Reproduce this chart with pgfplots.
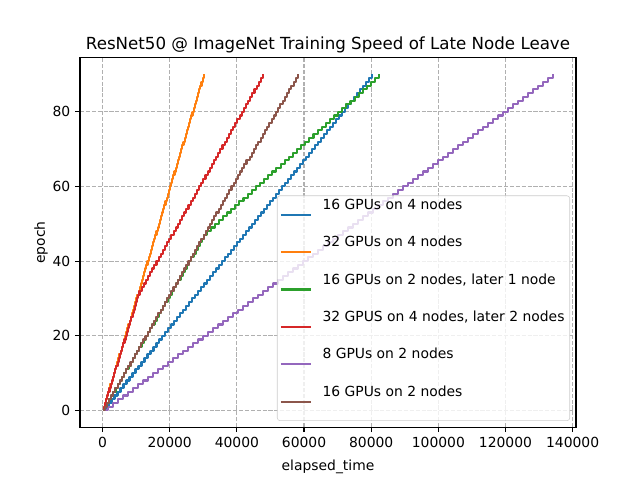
\documentclass[border=0pt]{standalone}
\usepackage{fontspec}
\setmainfont{DejaVu Sans}
\usepackage{pgfplots}
\pgfplotsset{compat=1.18}
\definecolor{c0}{HTML}{1F77B4}
\definecolor{c1}{HTML}{FF7F0E}
\definecolor{c2}{HTML}{2CA02C}
\definecolor{c3}{HTML}{D62728}
\definecolor{c4}{HTML}{9467BD}
\definecolor{c5}{HTML}{8C564B}
\definecolor{gridc}{HTML}{B0B0B0}
\definecolor{legc}{HTML}{CCCCCC}
\newcommand{\legtxt}[1]{#1\hspace*{2pt}\\[2pt]\strut}
\begin{document}
\begin{tikzpicture}
\path[use as bounding box] (-57.6pt,-38.02pt) rectangle (403.2pt,307.58pt);
\begin{axis}[
  at={(0pt,0pt)}, anchor=south west,
  scale only axis, width=357.12pt, height=266.11pt,
  xmin=-6714, xmax=140994, ymin=-4.5, ymax=94.5,
  xtick={0,20000,40000,60000,80000,100000,120000,140000},
  ytick={0,20,40,60,80},
  scaled x ticks=false,
  xticklabel style={/pgf/number format/.cd, fixed, 1000 sep={}},
  /pgf/number format/assume math mode=true,
  tick align=outside, major tick length=3.5pt,
  xtick pos=left, ytick pos=left,
  tick style={black, line width=0.8pt},
  axis line style={line width=0.8pt},
  grid=major,
  major grid style={gridc, line width=0.8pt, dash pattern=on 2.96pt off 1.28pt},
  title={\fontsize{12}{14}\selectfont ResNet50 @ ImageNet Training Speed of Late Node Leave},
  title style={yshift=-6.5pt},
  xlabel={elapsed\_time}, ylabel={epoch},
  xlabel style={yshift=-2pt}, ylabel style={yshift=-3.5pt},
  font=\fontsize{10}{12}\selectfont,
  legend style={at={(0.988,0.017)}, anchor=south east, draw=legc, rounded corners=2pt,
    fill=white, fill opacity=0.8, text opacity=1, font=\fontsize{10}{12}\selectfont,
    row sep=3.8pt, column sep=0pt, inner xsep=1.8pt, inner ysep=2.16pt,
    nodes={inner sep=0pt, align=left}, cells={anchor=west}},
  legend image code/.code={\draw[#1] (0pt,0pt) -- (21.6pt,0pt); \path (29.3pt,0pt);},
  every axis plot/.append style={line width=1.5pt, const plot, line join=round},
]
\addplot[c0] coordinates {(0,0)(892,1)(1784,2)(2676,3)(3568,4)(4460,5)(5352,6)(6244,7)(7136,8)(8028,9)(8920,10)(9812,11)(10704,12)(11596,13)(12488,14)(13380,15)(14272,16)(15164,17)(16056,18)(16948,19)(17840,20)(18732,21)(19624,22)(20516,23)(21408,24)(22300,25)(23192,26)(24084,27)(24976,28)(25868,29)(26760,30)(27652,31)(28544,32)(29436,33)(30328,34)(31220,35)(32112,36)(33004,37)(33896,38)(34788,39)(35680,40)(36572,41)(37464,42)(38356,43)(39248,44)(40140,45)(41032,46)(41924,47)(42816,48)(43708,49)(44600,50)(45492,51)(46384,52)(47276,53)(48168,54)(49060,55)(49952,56)(50844,57)(51736,58)(52628,59)(53520,60)(54412,61)(55304,62)(56196,63)(57088,64)(57980,65)(58872,66)(59764,67)(60656,68)(61548,69)(62440,70)(63332,71)(64224,72)(65116,73)(66008,74)(66900,75)(67792,76)(68684,77)(69576,78)(70468,79)(71360,80)(72252,81)(73144,82)(74036,83)(74928,84)(75820,85)(76712,86)(77604,87)(78496,88)(79388,89)(80280,90)};
\addlegendentry{\legtxt{16 GPUs on 4 nodes}}
\addplot[c1] coordinates {(0,0)(335,1)(670,2)(1005,3)(1340,4)(1675,5)(2010,6)(2345,7)(2680,8)(3015,9)(3350,10)(3685,11)(4020,12)(4355,13)(4690,14)(5025,15)(5360,16)(5695,17)(6030,18)(6365,19)(6700,20)(7035,21)(7370,22)(7705,23)(8040,24)(8375,25)(8710,26)(9045,27)(9380,28)(9715,29)(10050,30)(10385,31)(10720,32)(11055,33)(11390,34)(11725,35)(12060,36)(12395,37)(12730,38)(13065,39)(13400,40)(13735,41)(14070,42)(14405,43)(14740,44)(15075,45)(15410,46)(15745,47)(16080,48)(16415,49)(16750,50)(17085,51)(17420,52)(17755,53)(18090,54)(18425,55)(18760,56)(19095,57)(19430,58)(19765,59)(20100,60)(20435,61)(20770,62)(21105,63)(21440,64)(21775,65)(22110,66)(22445,67)(22780,68)(23115,69)(23450,70)(23785,71)(24120,72)(24455,73)(24790,74)(25125,75)(25460,76)(25795,77)(26130,78)(26465,79)(26800,80)(27135,81)(27470,82)(27805,83)(28140,84)(28475,85)(28810,86)(29145,87)(29480,88)(29815,89)(30150,90)};
\addlegendentry{\legtxt{32 GPUs on 4 nodes}}
\addplot[c2] coordinates {(0,0)(645,1)(1290,2)(1935,3)(2580,4)(3225,5)(3870,6)(4515,7)(5160,8)(5805,9)(6450,10)(7095,11)(7740,12)(8385,13)(9030,14)(9675,15)(10320,16)(10965,17)(11610,18)(12255,19)(12900,20)(13545,21)(14190,22)(14835,23)(15480,24)(16125,25)(16770,26)(17415,27)(18060,28)(18705,29)(19350,30)(19995,31)(20640,32)(21285,33)(21930,34)(22575,35)(23220,36)(23865,37)(24510,38)(25155,39)(25800,40)(26445,41)(27090,42)(27735,43)(28380,44)(29025,45)(29670,46)(30315,47)(30960,48)(32185,49)(33410,50)(34635,51)(35860,52)(37085,53)(38310,54)(39535,55)(40760,56)(41985,57)(43210,58)(44435,59)(45660,60)(46885,61)(48110,62)(49335,63)(50560,64)(51785,65)(53010,66)(54235,67)(55460,68)(56685,69)(57910,70)(59135,71)(60360,72)(61585,73)(62810,74)(64035,75)(65260,76)(66485,77)(67710,78)(68935,79)(70160,80)(71385,81)(72610,82)(73835,83)(75060,84)(76285,85)(77510,86)(78735,87)(79960,88)(81185,89)(82410,90)};
\addlegendentry{\legtxt{16 GPUs on 2 nodes, later 1 node}}
\addplot[c3] coordinates {(0,0)(344,1)(688,2)(1032,3)(1376,4)(1720,5)(2064,6)(2408,7)(2752,8)(3096,9)(3440,10)(3784,11)(4128,12)(4472,13)(4816,14)(5160,15)(5504,16)(5848,17)(6192,18)(6536,19)(6880,20)(7224,21)(7568,22)(7912,23)(8256,24)(8600,25)(8944,26)(9288,27)(9632,28)(9976,29)(10320,30)(10664,31)(11008,32)(11642,33)(12276,34)(12910,35)(13544,36)(14178,37)(14812,38)(15446,39)(16080,40)(16714,41)(17348,42)(17982,43)(18616,44)(19250,45)(19884,46)(20518,47)(21152,48)(21786,49)(22420,50)(23054,51)(23688,52)(24322,53)(24956,54)(25590,55)(26224,56)(26858,57)(27492,58)(28126,59)(28760,60)(29394,61)(30028,62)(30662,63)(31296,64)(31930,65)(32564,66)(33198,67)(33832,68)(34466,69)(35100,70)(35734,71)(36368,72)(37002,73)(37636,74)(38270,75)(38904,76)(39538,77)(40172,78)(40806,79)(41440,80)(42074,81)(42708,82)(43342,83)(43976,84)(44610,85)(45244,86)(45878,87)(46512,88)(47146,89)(47780,90)};
\addlegendentry{\legtxt{32 GPUS on 4 nodes, later 2 nodes}}
\addplot[c4] coordinates {(0,0)(1492,1)(2984,2)(4476,3)(5968,4)(7460,5)(8952,6)(10444,7)(11936,8)(13428,9)(14920,10)(16412,11)(17904,12)(19396,13)(20888,14)(22380,15)(23872,16)(25364,17)(26856,18)(28348,19)(29840,20)(31332,21)(32824,22)(34316,23)(35808,24)(37300,25)(38792,26)(40284,27)(41776,28)(43268,29)(44760,30)(46252,31)(47744,32)(49236,33)(50728,34)(52220,35)(53712,36)(55204,37)(56696,38)(58188,39)(59680,40)(61172,41)(62664,42)(64156,43)(65648,44)(67140,45)(68632,46)(70124,47)(71616,48)(73108,49)(74600,50)(76092,51)(77584,52)(79076,53)(80568,54)(82060,55)(83552,56)(85044,57)(86536,58)(88028,59)(89520,60)(91012,61)(92504,62)(93996,63)(95488,64)(96980,65)(98472,66)(99964,67)(101456,68)(102948,69)(104440,70)(105932,71)(107424,72)(108916,73)(110408,74)(111900,75)(113392,76)(114884,77)(116376,78)(117868,79)(119360,80)(120852,81)(122344,82)(123836,83)(125328,84)(126820,85)(128312,86)(129804,87)(131296,88)(132788,89)(134280,90)};
\addlegendentry{\legtxt{8 GPUs on 2 nodes}}
\addplot[c5] coordinates {(0,0)(640,1)(1280,2)(1920,3)(2560,4)(3200,5)(3840,6)(4480,7)(5120,8)(5760,9)(6400,10)(7040,11)(7680,12)(8320,13)(8960,14)(9600,15)(10240,16)(10880,17)(11520,18)(12160,19)(12800,20)(13440,21)(14080,22)(14720,23)(15360,24)(16000,25)(16640,26)(17280,27)(17920,28)(18560,29)(19200,30)(19840,31)(20480,32)(21120,33)(21760,34)(22400,35)(23040,36)(23680,37)(24320,38)(24960,39)(25600,40)(26240,41)(26880,42)(27520,43)(28160,44)(28800,45)(29440,46)(30080,47)(30720,48)(31360,49)(32000,50)(32640,51)(33280,52)(33920,53)(34560,54)(35200,55)(35840,56)(36480,57)(37120,58)(37760,59)(38400,60)(39040,61)(39680,62)(40320,63)(40960,64)(41600,65)(42240,66)(42880,67)(43780,68)(44435,69)(45090,70)(45745,71)(46400,72)(47055,73)(47710,74)(48365,75)(49020,76)(49675,77)(50330,78)(50985,79)(51640,80)(52295,81)(52950,82)(53605,83)(54260,84)(54915,85)(55570,86)(56225,87)(56880,88)(57535,89)(58190,90)};
\addlegendentry{\legtxt{16 GPUs on 2 nodes}}
\end{axis}
\end{tikzpicture}
\end{document}
